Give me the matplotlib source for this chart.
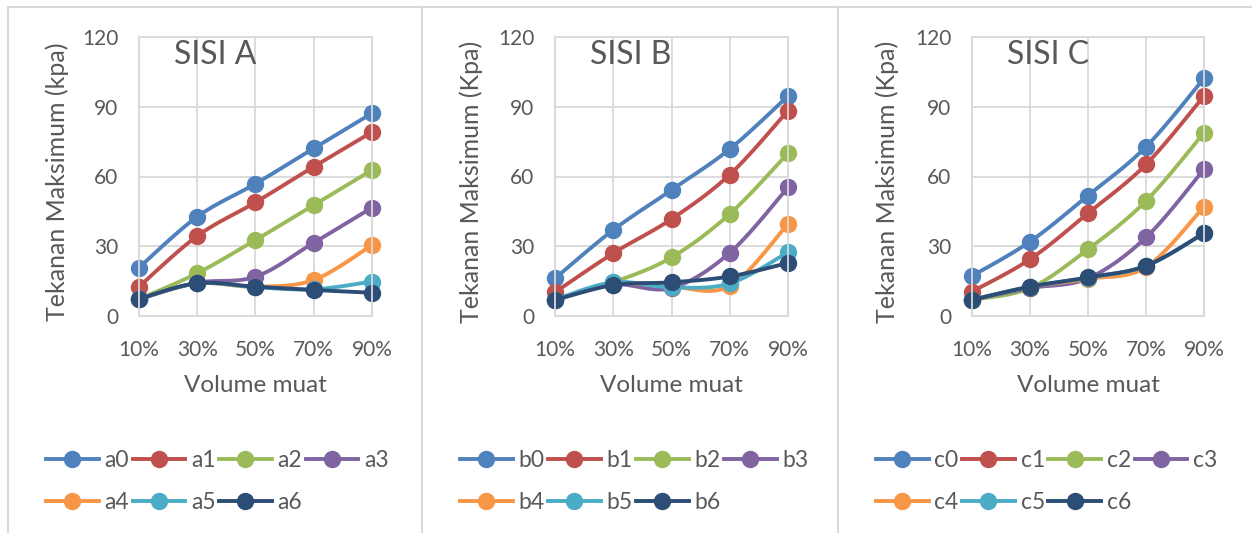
import numpy as np
import matplotlib.pyplot as plt
from matplotlib.lines import Line2D

plt.rcParams['font.family'] = ['Lato', 'DejaVu Sans']

W, H = 1252, 533

volume = ["10%", "30%", "50%", "70%", "90%"]

# SISI A
a0 = [20.8, 42.7, 56.9, 72.1, 87.2]
a1 = [12.6, 34.4, 48.9, 64.2, 79.1]
a2 = [7.3, 18.4, 32.7, 47.7, 62.8]
a3 = [7.3, 14.3, 16.9, 31.5, 46.6]
a4 = [7.3, 14.0, 12.6, 15.5, 30.5]
a5 = [7.3, 14.0, 12.4, 11.5, 14.8]
a6 = [7.3, 14.1, 12.6, 11.2, 10.0]

# SISI B
b0 = [16.2, 37.0, 54.2, 71.8, 94.6]
b1 = [10.2, 27.0, 41.7, 60.8, 88.3]
b2 = [7.0, 14.5, 25.2, 43.9, 70.0]
b3 = [7.0, 13.5, 12.0, 27.2, 55.3]
b4 = [7.0, 14.0, 12.6, 12.9, 39.6]
b5 = [7.0, 14.5, 12.3, 14.0, 27.4]
b6 = [6.9, 13.3, 14.5, 17.0, 22.8]

# SISI C
c0 = [17.2, 32.0, 51.8, 72.8, 102.2]
c1 = [10.5, 24.4, 44.2, 65.2, 94.6]
c2 = [7.0, 12.0, 28.7, 49.5, 78.8]
c3 = [7.0, 12.0, 16.2, 33.8, 63.1]
c4 = [7.0, 12.5, 16.0, 21.0, 47.0]
c5 = [7.0, 12.6, 16.5, 21.5, 35.6]
c6 = [6.9, 12.6, 16.6, 21.6, 35.6]

colors = ["#4F81BD", "#C0504D", "#9BBB59", "#8064A2", "#F79646", "#4BACC6", "#2C4D75"]
grey = "#595959"
grid = "#D9D9D9"

# title, y label, series names, values, panel border x, plot left, plot right
panels = [
    ("SISI A", "Tekanan Maksimum (kpa)", ["a0", "a1", "a2", "a3", "a4", "a5", "a6"],
     [a0, a1, a2, a3, a4, a5, a6], 8, 139, 372),
    ("SISI B", "Tekanan Maksimum (Kpa)", ["b0", "b1", "b2", "b3", "b4", "b5", "b6"],
     [b0, b1, b2, b3, b4, b5, b6], 422, 555, 788),
    ("SISI C", "Tekanan Maksimum (Kpa)", ["c0", "c1", "c2", "c3", "c4", "c5", "c6"],
     [c0, c1, c2, c3, c4, c5, c6], 838, 972, 1204),
]


def smooth(y, n=30):
    # Excel-like smoothed line: cubic Bezier through the points (Catmull-Rom tangents)
    x = np.arange(len(y), dtype=float)
    y = np.asarray(y, dtype=float)
    px = np.concatenate([[x[0]], x, [x[-1]]])
    py = np.concatenate([[y[0]], y, [y[-1]]])
    xs, ys = [], []
    t = np.linspace(0, 1, n)
    for i in range(1, len(px) - 2):
        p0 = np.array([px[i], py[i]])
        p3 = np.array([px[i + 1], py[i + 1]])
        c1 = p0 + (np.array([px[i + 1], py[i + 1]]) - np.array([px[i - 1], py[i - 1]])) / 6
        c2 = p3 - (np.array([px[i + 2], py[i + 2]]) - np.array([px[i], py[i]])) / 6
        b = ((1 - t) ** 3)[:, None] * p0 + (3 * (1 - t) ** 2 * t)[:, None] * c1 \
            + (3 * (1 - t) * t ** 2)[:, None] * c2 + (t ** 3)[:, None] * p3
        xs.append(b[:, 0])
        ys.append(b[:, 1])
    return np.concatenate(xs), np.concatenate(ys)


fig = plt.figure(figsize=(W / 100, H / 100), dpi=100)

# panel borders
for xb in [8, 422, 838]:
    fig.add_artist(Line2D([xb / W, xb / W], [0, 1 - 7 / H], color=grid, lw=1.5))
fig.add_artist(Line2D([8 / W, 1], [1 - 7 / H, 1 - 7 / H], color=grid, lw=1.5))

top, bottom = 37, 316
for title, ylab, names, series, border, left, right in panels:
    ax = fig.add_axes([left / W, 1 - bottom / H, (right - left) / W, (bottom - top) / H])
    x = np.arange(len(volume))
    for name, vals, col in zip(names, series, colors):
        sx, sy = smooth(vals)
        ax.plot(sx, sy, color=col, lw=2.8, clip_on=False, solid_capstyle='round')
        ax.plot(x, vals, 'o', color=col, ms=11.5, clip_on=False)
    ax.set_xlim(0, len(volume) - 1)
    ax.set_ylim(0, 120)
    ax.set_yticks([0, 30, 60, 90, 120])
    ax.set_xticks(x)
    ax.set_xticklabels(volume)
    ax.grid(True, color=grid, lw=1.3)
    ax.set_axisbelow(True)
    for s in ax.spines.values():
        s.set_color(grid)
        s.set_linewidth(1.3)
    ax.tick_params(length=0, labelsize=15, colors=grey)
    ax.tick_params(axis='x', pad=17)
    ax.tick_params(axis='y', pad=15)
    ax.set_xlabel("Volume muat", fontsize=17.5, color=grey)
    ax.xaxis.set_label_coords(0.5, -(375 - bottom) / (bottom - top))
    ax.set_ylabel(ylab, fontsize=18, color=grey, va='center')
    ax.yaxis.set_label_coords(-(left - border - 49) / (right - left), 0.48)
    ax.text((left + 35) / W, 1 - 64 / H, title, transform=fig.transFigure,
            fontsize=23, color=grey, va='baseline', ha='left')

    handles = [Line2D([], [], color=c, lw=2.8, marker='o', ms=11.5) for c in colors]
    # matplotlib fills legend columns first; reorder so entries read row by row
    order = [0, 4, 1, 5, 2, 6, 3]
    ax.legend([handles[i] for i in order], [names[i] for i in order],
              loc='upper left', ncol=4, frameon=False,
              bbox_to_anchor=((border + 38) / W, 1 - 450 / H), bbox_transform=fig.transFigure,
              fontsize=16.5, handlelength=2.3, handletextpad=0.25, columnspacing=0.15,
              labelspacing=0.9, borderaxespad=0, borderpad=0, labelcolor=grey)

fig.savefig("out.png", dpi=100)
